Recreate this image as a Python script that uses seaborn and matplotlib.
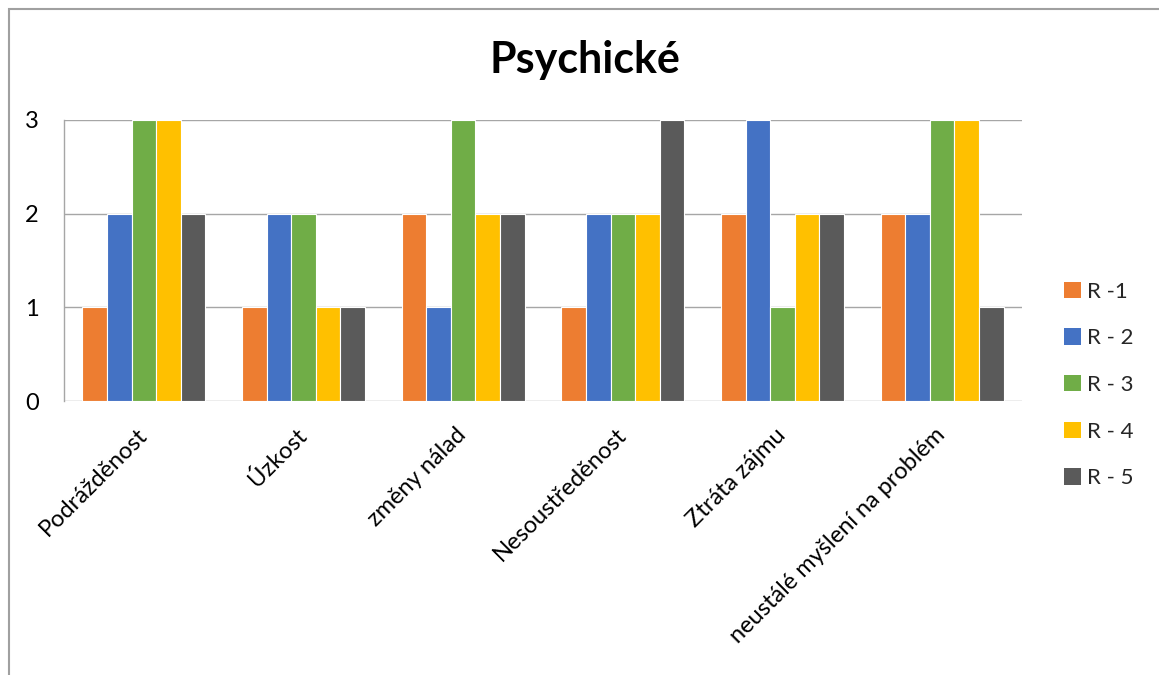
import matplotlib
matplotlib.use("Agg")
import matplotlib.pyplot as plt
from matplotlib.patches import Rectangle, Patch
import seaborn as sns
import pandas as pd

categories = ["Podrážděnost", "Úzkost", "změny nálad", "Nesoustředěnost",
              "Ztráta zájmu", "neustálé myšlení na problém"]
series_names = ["R -1", "R - 2", "R - 3", "R - 4", "R - 5"]
r1 = [1, 1, 2, 1, 2, 2]
r2 = [2, 2, 1, 2, 3, 2]
r3 = [3, 2, 3, 2, 1, 3]
r4 = [3, 1, 2, 2, 2, 3]
r5 = [2, 1, 2, 3, 2, 1]
y_ticks = [0, 1, 2, 3]
colors = ["#ED7D31", "#4472C4", "#70AD47", "#FFC000", "#5A5A5A"]

rows = []
for name, vals in zip(series_names, [r1, r2, r3, r4, r5]):
    for cat, v in zip(categories, vals):
        rows.append({"kategorie": cat, "řada": name, "hodnota": v})
df = pd.DataFrame(rows)

sns.set_theme(style="white")
plt.rcParams["font.family"] = ["Lato", "DejaVu Sans"]

fig = plt.figure(figsize=(11.59, 6.75), dpi=100)
ax = fig.add_axes([64 / 1159, 1 - 401 / 675, (1022 - 64) / 1159, (401 - 120) / 675])

sns.barplot(data=df, x="kategorie", y="hodnota", hue="řada", order=categories,
            hue_order=series_names, palette=colors, width=0.77, dodge=True,
            edgecolor="white", linewidth=0.8, saturation=1, legend=False, ax=ax)

ax.set_ylim(0, 3)
ax.set_xlim(-0.5, len(categories) - 0.5)
ax.set_yticks(y_ticks)
ax.set_yticklabels([str(t) for t in y_ticks], fontsize=17, color="black")
ax.yaxis.grid(True, color="#A6A6A6", linewidth=1)
ax.set_axisbelow(True)
ax.tick_params(axis="both", length=0)
ax.tick_params(axis="y", pad=18)
ax.tick_params(axis="x", pad=22)
ax.set_xticks(range(len(categories)))
ax.set_xticklabels(categories, rotation=45, ha="right", va="center",
                   rotation_mode="anchor", fontsize=17, color="black")
ax.set_xlabel("")
ax.set_ylabel("")
for side in ["top", "right", "bottom"]:
    ax.spines[side].set_visible(False)
ax.spines["left"].set_color("#A6A6A6")
ax.spines["left"].set_linewidth(1)

fig.text(585 / 1159, 1 - 60 / 675, "Psychické", ha="center", va="center",
         fontsize=31, fontweight="bold", color="black")

handles = [Patch(facecolor=c, edgecolor="none") for c in colors]
fig.legend(handles, series_names, loc="center left",
           bbox_to_anchor=(1044 / 1159, 1 - 385 / 675), frameon=False,
           fontsize=16, handlelength=0.75, handleheight=0.75, handletextpad=0.3,
           labelspacing=1.2)

border = Rectangle((8.5 / 1159, -0.1), 1.2, 1 - 8.5 / 675 + 0.1,
                   transform=fig.transFigure, fill=False,
                   edgecolor="#A0A0A0", linewidth=1.5)
fig.add_artist(border)

fig.savefig("out.png", dpi=100)
